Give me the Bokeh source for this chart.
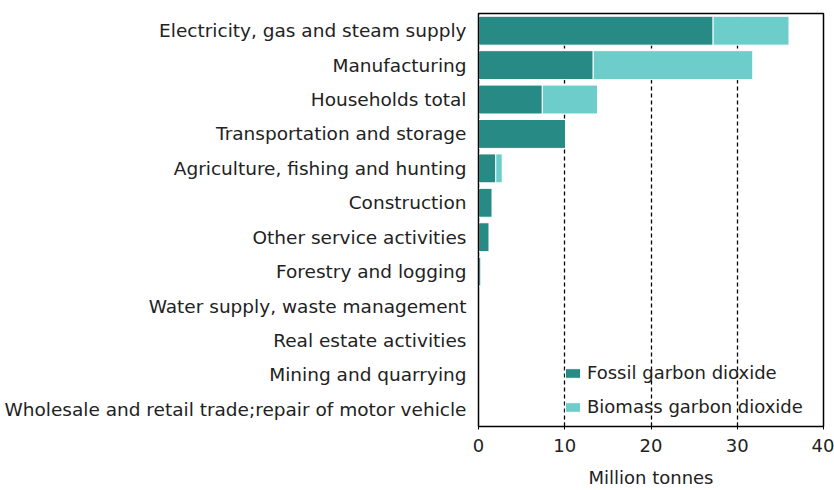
from bokeh.plotting import figure
from bokeh.models import ColumnDataSource, FactorRange
from bokeh.embed import file_html
from bokeh.resources import INLINE

categories = [
    "Electricity, gas and steam supply",
    "Manufacturing",
    "Households total",
    "Transportation and storage",
    "Agriculture, fishing and hunting",
    "Construction",
    "Other service activities",
    "Forestry and logging",
    "Water supply, waste management",
    "Real estate activities",
    "Mining and quarrying",
    "Wholesale and retail trade;repair of motor vehicle",
]
fossil = [27.2, 13.3, 7.4, 10.1, 2.0, 1.6, 1.25, 0.3, 0.0, 0.0, 0.0, 0.0]
biomass = [8.8, 18.5, 6.4, 0.0, 0.75, 0.0, 0.0, 0.0, 0.0, 0.0, 0.0, 0.0]
series_names = ["Fossil garbon dioxide", "Biomass garbon dioxide"]
x_ticks = [0, 10, 20, 30, 40]

FOSSIL_C = "#278a85"
BIO_C = "#6ccdcb"
FONT = "DejaVu Sans"

source = ColumnDataSource(dict(cat=categories, fossil=fossil, biomass=biomass))

p = figure(
    width=834, height=490,
    y_range=FactorRange(*list(reversed(categories))),
    x_range=(0, 40),
    output_backend="svg", toolbar_location=None,
    min_border_left=478, min_border_right=11, min_border_top=13, min_border_bottom=63,
)

p.hbar_stack(["fossil", "biomass"], y="cat", height=0.84, color=[FOSSIL_C, BIO_C],
             line_color="white", line_width=1, source=source,
             legend_label=series_names)

p.outline_line_color = "black"
p.outline_line_width = 1.5
p.outline_line_alpha = 1.0

p.ygrid.grid_line_color = None
p.xgrid.grid_line_color = "black"
p.xgrid.grid_line_dash = "4 3"
p.xgrid.grid_line_width = 1.3

p.xaxis.ticker = x_ticks
p.xaxis.axis_label = "Million tonnes"
p.xaxis.axis_label_text_font = FONT
p.xaxis.axis_label_text_font_size = "18px"
p.xaxis.axis_label_text_font_style = "normal"
p.xaxis.axis_label_text_color = "#222222"
p.xaxis.axis_label_standoff = 12
p.xaxis.major_label_text_font = FONT
p.xaxis.major_label_text_font_size = "18px"
p.xaxis.major_label_text_color = "#222222"
p.xaxis.major_label_standoff = 9
p.xaxis.major_tick_in = 4
p.xaxis.major_tick_out = 3
p.xaxis.minor_tick_line_color = None
p.xaxis.axis_line_color = "black"
p.xaxis.major_tick_line_color = "black"

p.yaxis.major_label_text_font = FONT
p.yaxis.major_label_text_font_size = "18.5px"
p.yaxis.major_label_text_color = "#222222"
p.yaxis.major_tick_line_color = None
p.yaxis.minor_tick_line_color = None
p.yaxis.major_label_standoff = 6
p.yaxis.axis_line_color = "black"

lg = p.legend[0]
lg.location = (85, 9)
lg.border_line_color = None
lg.background_fill_alpha = 0
lg.label_text_font = FONT
lg.label_text_font_size = "18px"
lg.label_text_color = "#222222"
lg.glyph_width = 19
lg.glyph_height = 12
lg.label_height = 20
lg.label_standoff = 5
lg.spacing = 13
lg.padding = 0
lg.margin = 0

open("out.html", "w").write(file_html(p, INLINE))
